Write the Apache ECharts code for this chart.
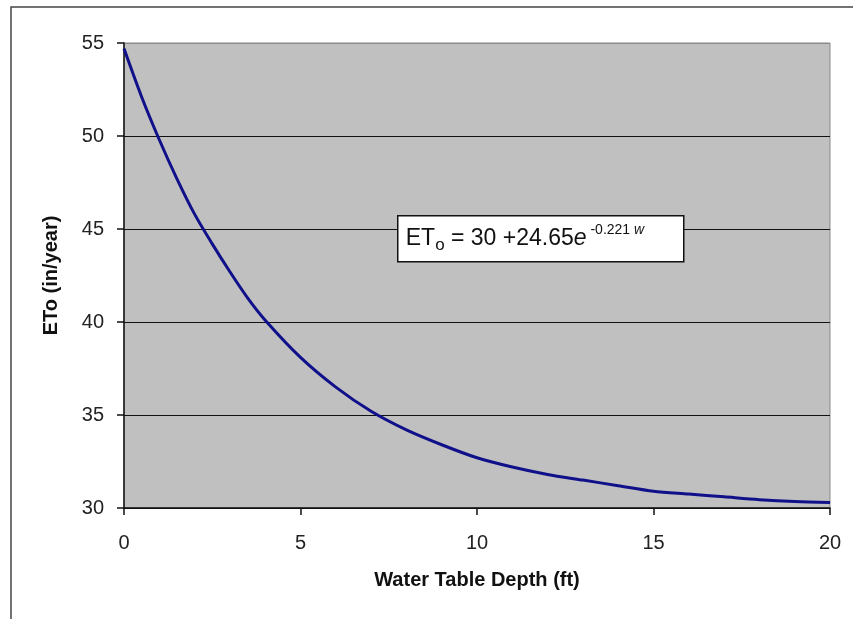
<!DOCTYPE html>
<html>
<head>
<meta charset="utf-8">
<title>ETo vs Water Table Depth</title>
<script src="https://cdn.jsdelivr.net/npm/echarts@6.0.0/dist/echarts.min.js"></script>
<style>
    html, body { margin: 0; padding: 0; background: #fff; }
    #chart { width: 853px; height: 619px; }
</style>
</head>
<body>
<div id="chart"></div>
<script>
// Values
const depthFt = [0, 0.5, 1, 1.5, 2, 2.5, 3, 3.5, 4, 5, 6, 7, 8, 9, 10, 11, 12, 13, 14, 15, 16, 17, 18, 19, 20];
const etoInYear = [54.7, 52.1, 49.8, 47.7, 45.8, 44.2, 42.7, 41.3, 40.1, 38.1, 36.5, 35.2, 34.2, 33.4, 32.7, 32.2, 31.8, 31.5, 31.2, 30.9, 30.75, 30.6, 30.45, 30.35, 30.3];

const xTicks = [0, 5, 10, 15, 20];
const yTicks = [30, 35, 40, 45, 50, 55];

const FONT = '"Liberation Sans", Arial, sans-serif';
const TEXT = '#222';

const chart = echarts.init(document.getElementById('chart'));

// Pair up depths and values for the line series
const curve = depthFt.map((d, i) => [d, etoInYear[i]]);

const option = {
    animation: false,
    backgroundColor: '#fff',
    grid: {
        left: 124,
        top: 43,
        right: 23,
        bottom: 111,
        show: true,
        backgroundColor: '#C0C0C0',
        borderColor: '#8a8a8a',
        borderWidth: 1
    },
    xAxis: {
        type: 'value',
        min: xTicks[0],
        max: xTicks[xTicks.length - 1],
        interval: 5,
        name: 'Water Table Depth (ft)',
        nameLocation: 'middle',
        nameGap: 62,
        nameTextStyle: { fontFamily: FONT, fontSize: 20, fontWeight: 'bold', color: '#111' },
        axisLine: { show: true, lineStyle: { color: '#111', width: 1.5 } },
        axisTick: { show: true, length: 7, lineStyle: { color: '#111', width: 1.5 } },
        axisLabel: { fontFamily: FONT, fontSize: 20, color: TEXT, margin: 25 },
        splitLine: { show: false }
    },
    yAxis: {
        type: 'value',
        min: yTicks[0],
        max: yTicks[yTicks.length - 1],
        interval: 5,
        name: 'ETo (in/year)',
        nameLocation: 'middle',
        nameGap: 63,
        nameTextStyle: { fontFamily: FONT, fontSize: 20, fontWeight: 'bold', color: '#111' },
        axisLine: { show: true, lineStyle: { color: '#111', width: 1.5 } },
        axisTick: { show: true, length: 7, lineStyle: { color: '#111', width: 1.5 } },
        axisLabel: { fontFamily: FONT, fontSize: 20, color: TEXT, margin: 20 },
        splitLine: {
            show: true,
            lineStyle: { color: ['#111', '#111', '#111', '#111', '#111', '#8a8a8a'], width: 1.2 }
        }
    },
    series: [{
        type: 'line',
        data: curve,
        smooth: 0.3,
        showSymbol: false,
        lineStyle: { color: '#10108a', width: 3 }
    }],
    graphic: [
        // outer chart frame (only top and left edges are visible in the crop)
        {
            type: 'rect',
            shape: { x: 11, y: 7, width: 900, height: 700 },
            style: { fill: 'none', stroke: '#444', lineWidth: 1.5 },
            silent: true
        },
        // equation annotation, kept above the grid lines
        {
            type: 'group',
            left: 397,
            top: 215,
            z: 100,
            children: [
                {
                    type: 'rect',
                    z: 100,
                    shape: { x: 0, y: 0, width: 286, height: 46 },
                    style: { fill: '#fff', stroke: '#111', lineWidth: 1.5 }
                },
                {
                    type: 'text',
                    z: 101,
                    x: 8,
                    y: 8,
                    style: {
                        text: '{m|ET}{sub|o}{m| = 30 +24.65}{it|e}{sup| -0.221 }{supi|w}',
                        fill: '#111',
                        rich: {
                            m: { fontFamily: FONT, fontSize: 23, lineHeight: 30, verticalAlign: 'middle' },
                            sub: { fontFamily: FONT, fontSize: 17, lineHeight: 30, padding: [14, 0, 0, 0], verticalAlign: 'middle' },
                            it: { fontFamily: FONT, fontSize: 23, fontStyle: 'italic', lineHeight: 30, verticalAlign: 'middle' },
                            sup: { fontFamily: FONT, fontSize: 14, lineHeight: 30, padding: [0, 0, 18, 0], verticalAlign: 'middle' },
                            supi: { fontFamily: FONT, fontSize: 14, fontStyle: 'italic', lineHeight: 30, padding: [0, 0, 18, 0], verticalAlign: 'middle' }
                        }
                    }
                }
            ]
        }
    ]
};

chart.setOption(option);
</script>
</body>
</html>
